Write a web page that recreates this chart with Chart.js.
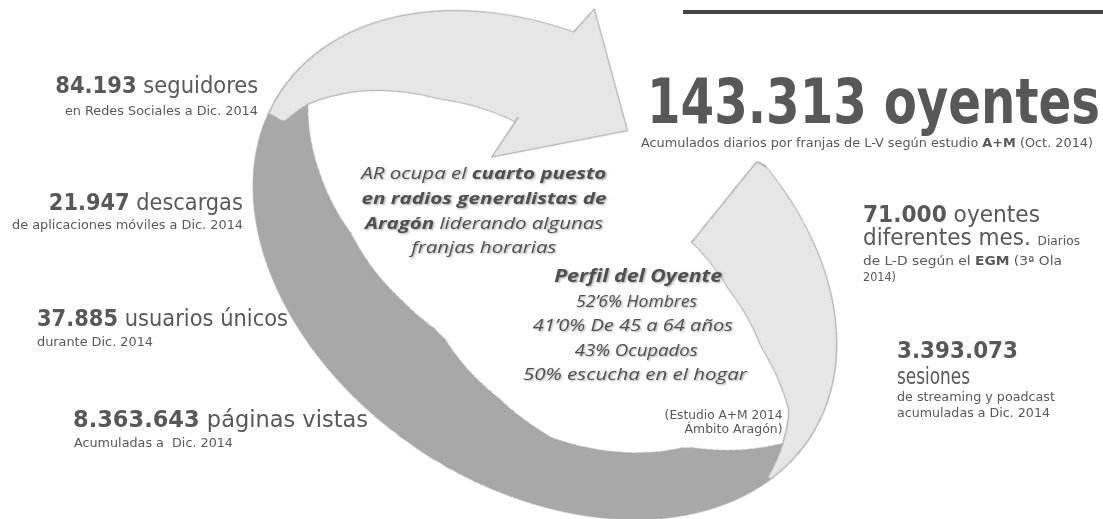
<!DOCTYPE html>
<html>
<head>
<meta charset="utf-8">
<script src="https://cdn.jsdelivr.net/npm/chart.js@4.4.1/dist/chart.umd.min.js"></script>
<style>
  html, body { margin: 0; padding: 0; background: #fff; }
  body { width: 1103px; height: 519px; position: relative; overflow: hidden;
         font-family: "DejaVu Sans Condensed", "DejaVu Sans", sans-serif; color: #585858; }
  #ring { position: absolute; left: 245px; top: -35px; width: 600px; height: 600px;
          transform-origin: 300px 300px; transform: rotate(33deg) scale(1.24, 0.876); }
  #rule { position: absolute; left: 683px; top: 10px; width: 420px; height: 4px; background: #454545; }
  .t { position: absolute; white-space: pre; line-height: 1; }
  .t b { font-weight: bold; }
  .it { font-family: "Open Sans", sans-serif; font-style: italic; color: #505050;
        text-shadow: 1px 1px 2px rgba(0,0,0,0.35); }
  .bl { display: inline-block; width: 0; height: 0; vertical-align: baseline; }
  small { font-size: 13px; }
</style>
</head>
<body>
<div id="ring"><canvas id="swirl" width="600" height="600"></canvas></div>
<div id="rule"></div>
<div id="labels"></div>
<script>
// edges of the three ribbon pieces: [radius on a 255 ring, angle in degrees clockwise from top]
const darkStartEdge  = [[137, 197], [160, 170], [182, 153], [197, 116], [249, 92], [255, 92]];
const darkEndEdge    = [[137, 197], [149, 214], [172, 238], [203, 256], [233, 272], [255, 264]];
const topStartEdge   = [[145, 326], [173, 303], [210, 284], [232, 272], [242, 264], [255, 264]];
const topEndEdge     = [[145, 326], [180, 334], [215, 338], [255, 342]];
const rightStartEdge = [[145, 38], [250, 23], [255, 25]];
const rightEndEdge   = [[145, 38], [164, 56], [192, 73], [231, 87], [255, 106]];

// figures shown around the swirl
const statValues = ['84.193', '21.947', '37.885', '8.363.643', '143.313', '71.000', '3.393.073'];
const statUnits  = ['seguidores', 'descargas', 'usuarios únicos', 'páginas vistas', 'oyentes', 'oyentes', 'sesiones'];
const statNotes  = [
  'en Redes Sociales a Dic. 2014',
  'de aplicaciones móviles a Dic. 2014',
  'durante Dic. 2014',
  'Acumuladas a  Dic. 2014',
  'Acumulados diarios por franjas de L-V según estudio <b>A+M</b> (Oct. 2014)',
  'de L-D según el <b>EGM</b> (3ª Ola',
  'de streaming y poadcast'
];
const rankLines = ['AR ocupa el <b>cuarto puesto</b>', '<b>en radios generalistas de</b>', '<b>Aragón</b> liderando algunas', 'franjas horarias'];
const profileLines = ['<b>Perfil del Oyente</b>', '52’6% Hombres', '41’0% De 45 a 64 años', '43% Ocupados', '50% escucha en el hogar'];
const sourceLines = ['(Estudio A+M 2014', 'Ámbito Aragón)'];

const ringOuter = 255, ringInner = 129, layerCount = 42;
const layerStep = (ringOuter - ringInner) / layerCount;
const bandColors = ['#a8a8a8', '#e6e6e6', '#e6e6e6'];   // dark, top, right

function edgeAt(edge, r) {
  if (r < edge[0][0] || r > edge[edge.length - 1][0]) return null;
  for (let i = 1; i < edge.length; i++) {
    const [r0, a0] = edge[i - 1], [r1, a1] = edge[i];
    if (r <= r1) return a0 + (a1 - a0) * (r - r0) / ((r1 - r0) || 1);
  }
  return null;
}
function bandRange(start, end, r) {
  const s = edgeAt(start, r), e = edgeAt(end, r);
  return s != null && e != null && e > s ? [s, e] : null;
}

// each ring layer: which angles belong to which ribbon piece (light pieces lie in front)
const layerRanges = Array.from({ length: layerCount }, (_, li) => {
  const r = ringOuter - (li + 0.5) * layerStep;
  const right = bandRange(rightStartEdge, rightEndEdge, r);
  const top = bandRange(topStartEdge, topEndEdge, r);
  let dark = bandRange(darkStartEdge, darkEndEdge, r);
  if (dark && right) dark[0] = Math.max(dark[0], right[1]);
  if (dark && top) dark[1] = Math.min(dark[1], top[0]);
  if (dark && dark[1] <= dark[0]) dark = null;
  return [dark, top, right];
});

function layerSegments(ranges) {
  const parts = ranges
    .map((rg, bi) => rg && { band: bi, from: rg[0], to: rg[1] })
    .filter(Boolean)
    .sort((a, b) => a.from - b.from);
  const segs = [];
  let at = 0;
  parts.forEach(p => {
    if (p.from > at) segs.push({ band: -1, span: p.from - at });
    segs.push({ band: p.band, span: p.to - p.from });
    at = p.to;
  });
  if (at < 360) segs.push({ band: -1, span: 360 - at });
  return segs;
}

const datasets = layerRanges.map((ranges, li) => {
  const segs = layerSegments(ranges);
  const colors = segs.map(s => s.band < 0 ? 'rgba(0,0,0,0)' : bandColors[s.band]);
  return {
    label: 'capa ' + (li + 1),
    data: segs.map(s => s.span),
    bands: segs.map(s => s.band),
    backgroundColor: colors,
    borderColor: colors,
    borderWidth: segs.map(s => s.band < 0 ? 0 : 1)
  };
});

const deg = d => (d - 90) * Math.PI / 180;

// convex corners of the stepped side of a ribbon piece, outer layer first
function sideCorners(arcs, key, sign) {
  const pts = [];
  arcs.forEach((a, k) => {
    const prev = arcs[k - 1], next = arcs[k + 1];
    const out = b => sign * b[key];            // larger = reaches further out of the piece
    if (!prev || out(prev) <= out(a)) pts.push([a.outerRadius, a[key]]);
    if (!next || out(next) <= out(a)) pts.push([a.innerRadius, a[key]]);
  });
  return pts;
}

// smooth contour over the stepped layer arcs of one ribbon piece
function bandPath(ctx, arcs) {
  const { x, y } = arcs[0];
  const pt = ([r, a]) => [x + r * Math.cos(a), y + r * Math.sin(a)];
  const o = arcs[0], last = arcs[arcs.length - 1];
  const ends = sideCorners(arcs, 'endAngle', 1);
  const starts = sideCorners(arcs, 'startAngle', -1);
  ctx.beginPath();
  ctx.moveTo(...pt([o.outerRadius, o.startAngle]));
  ctx.arc(x, y, o.outerRadius, o.startAngle, o.endAngle);
  ends.forEach(p => ctx.lineTo(...pt(p)));
  ctx.arc(x, y, last.innerRadius, last.endAngle, last.startAngle, true);
  starts.reverse().forEach(p => ctx.lineTo(...pt(p)));
  ctx.closePath();
}

// arrow head: [degree offset from the ribbon end, radius offset from the ring edge]
const headShape = [[-1, 0], [2, 32], [17, -75], [-32, -146], [-15.6, -105]];

function drawPoly(ctx, pts, strokeTo) {
  ctx.beginPath();
  pts.forEach((p, i) => i ? ctx.lineTo(...p) : ctx.moveTo(...p));
  ctx.closePath();
  ctx.fill();
  ctx.beginPath();
  pts.slice(0, strokeTo).forEach((p, i) => i ? ctx.lineTo(...p) : ctx.moveTo(...p));
  ctx.stroke();
}

const swirlEdges = {
  id: 'swirlEdges',
  afterDatasetsDraw(chart) {
    const ctx = chart.ctx;
    const arcsOf = bi => chart.data.datasets.map((ds, li) => {
      const i = ds.bands.indexOf(bi);
      return i < 0 ? null : chart.getDatasetMeta(li).data[i];
    }).filter(Boolean);
    const first = arcsOf(1)[0];
    const cx = first.x, cy = first.y, k = first.outerRadius / ringOuter;
    const at = (d, r) => [cx + r * k * Math.cos(deg(d)), cy + r * k * Math.sin(deg(d))];
    ctx.save();
    ctx.lineJoin = 'round';
    [0, 1, 2].forEach(bi => {
      bandPath(ctx, arcsOf(bi));
      ctx.fillStyle = bandColors[bi];
      ctx.fill();
      if (bi > 0) {
        ctx.strokeStyle = '#ababab';
        ctx.lineWidth = 1;
        ctx.stroke();
      }
    });
    ctx.strokeStyle = '#ababab';
    ctx.fillStyle = bandColors[1];
    const tipDeg = edgeAt(topEndEdge, ringOuter);
    drawPoly(ctx, headShape.map(([d, r]) => at(tipDeg + d, ringOuter + r)), 5);
    const cut = rightStartEdge.slice().reverse().map(([r, d]) => at(d, r));
    cut.push(at(rightStartEdge[0][1], ringOuter));
    drawPoly(ctx, cut, 3);
    ctx.restore();
  }
};

new Chart(document.getElementById('swirl'), {
  type: 'doughnut',
  data: { datasets },
  options: {
    responsive: false,
    animation: false,
    devicePixelRatio: 2,
    radius: ringOuter,
    cutout: (ringInner / ringOuter * 100) + '%',
    events: [],
    layout: { padding: 0 },
    plugins: { legend: { display: false }, tooltip: { enabled: false } }
  },
  plugins: [swirlEdges]
});

// text placement: baseline y, anchor x and width
function place(html, o) {
  const el = document.createElement('div');
  el.className = 't' + (o.it ? ' it' : '');
  el.style.fontSize = o.size + 'px';
  el.innerHTML = html + '<span class="bl"></span>';
  document.getElementById('labels').appendChild(el);
  const natW = el.getBoundingClientRect().width;
  const k = o.w ? o.w / natW : 1;
  el.style.top = (o.base - el.lastChild.offsetTop) + 'px';
  if (o.anchor === 'right') { el.style.left = (o.x - natW) + 'px'; el.style.transformOrigin = 'right center'; }
  else if (o.anchor === 'center') { el.style.left = (o.x - natW / 2) + 'px'; el.style.transformOrigin = 'center center'; }
  else { el.style.left = o.x + 'px'; el.style.transformOrigin = 'left center'; }
  el.style.transform = 'scaleX(' + k + ')';
}

const big = i => '<b>' + statValues[i] + '</b> ' + statUnits[i];
place(big(0), { size: 23, anchor: 'right', x: 258, base: 93, w: 203 });
place(statNotes[0], { size: 13, anchor: 'right', x: 258, base: 115, w: 193 });
place(big(1), { size: 23, anchor: 'right', x: 243, base: 210, w: 194 });
place(statNotes[1], { size: 13, anchor: 'right', x: 243, base: 229, w: 231 });
place(big(2), { size: 23, x: 37, base: 326, w: 251 });
place(statNotes[2], { size: 13, x: 37, base: 346, w: 116 });
place(big(3), { size: 23, x: 73, base: 427, w: 295 });
place(statNotes[3], { size: 13, x: 74, base: 447, w: 159 });

place('<b>' + statValues[4] + ' ' + statUnits[4] + '</b>', { size: 63, x: 647, base: 123, w: 453 });
place(statNotes[4], { size: 13, x: 641, base: 147, w: 452 });
place(big(5), { size: 23, x: 863, base: 222, w: 177 });
place('diferentes mes. <small>Diarios</small>', { size: 23, x: 863, base: 245, w: 217 });
place(statNotes[5], { size: 13, x: 863, base: 265, w: 199 });
place('2014)', { size: 13, x: 863, base: 281, w: 33 });
place('<b>' + statValues[6] + '</b>', { size: 23, x: 897, base: 358, w: 121 });
place(statUnits[6], { size: 23, x: 897, base: 384, w: 73 });
place(statNotes[6], { size: 13, x: 897, base: 401, w: 158 });
place('acumuladas a Dic. 2014', { size: 13, x: 897, base: 417, w: 153 });

const rankGeo = [[179, 245], [204, 245], [229, 238], [253, 145]];
rankLines.forEach((l, i) => place(l, { it: true, size: 16, anchor: 'center', x: 484, base: rankGeo[i][0], w: rankGeo[i][1] }));
const profGeo = [[282, 638, 168], [307, 637, 121], [331, 633, 200], [356, 636, 123], [380, 635, 224]];
profileLines.forEach((l, i) => place(l, { it: true, size: 17, anchor: 'center', x: profGeo[i][1], base: profGeo[i][0], w: profGeo[i][2] }));
sourceLines.forEach((l, i) => place(l, { size: 12.5, anchor: 'right', x: 783, base: 419 + i * 14, w: [118, 98][i] }));
</script>
</body>
</html>
